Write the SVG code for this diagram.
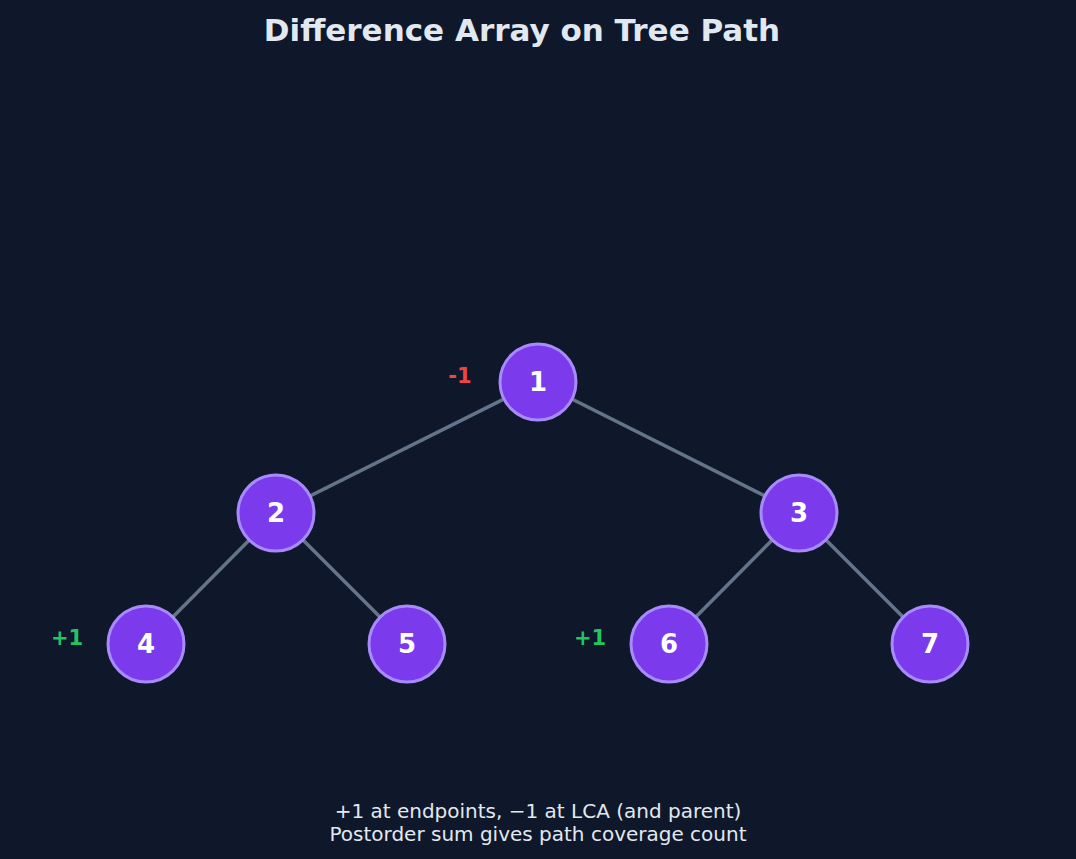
<svg xmlns="http://www.w3.org/2000/svg" width="1076" height="859" viewBox="0 0 1076 859">
<style>
.n{fill:#7c3aed;stroke:#a78bfa;stroke-width:3}
.t{font-family:"DejaVu Sans",sans-serif;font-weight:bold;font-size:26px;fill:#fff;text-anchor:middle;dominant-baseline:central}
.e{stroke:#64748b;stroke-width:3.5}
.l{font-family:"DejaVu Sans",sans-serif;font-weight:bold;font-size:21px;text-anchor:middle;dominant-baseline:central}
.c{font-family:"DejaVu Sans",sans-serif;font-size:20px;fill:#e2e8f0;text-anchor:middle}
</style>
<rect width="1076" height="859" fill="#0f172a"/>
<text x="522" y="41" font-family="DejaVu Sans,sans-serif" font-weight="bold" font-size="31" fill="#e2e8f0" text-anchor="middle">Difference Array on Tree Path</text>
<g id="edges">
<line class="e" x1="538" y1="382" x2="276" y2="513"/>
<line class="e" x1="538" y1="382" x2="799" y2="513"/>
<line class="e" x1="276" y1="513" x2="146" y2="644"/>
<line class="e" x1="276" y1="513" x2="407" y2="644"/>
<line class="e" x1="799" y1="513" x2="669" y2="644"/>
<line class="e" x1="799" y1="513" x2="930" y2="644"/>
</g>
<g id="n1"><circle class="n" cx="538" cy="382" r="38"/><text class="t" x="538" y="382">1</text></g>
<g id="n2"><circle class="n" cx="276" cy="513" r="38"/><text class="t" x="276" y="513">2</text></g>
<g id="n3"><circle class="n" cx="799" cy="513" r="38"/><text class="t" x="799" y="513">3</text></g>
<g id="n4"><circle class="n" cx="146" cy="644" r="38"/><text class="t" x="146" y="644">4</text></g>
<g id="n5"><circle class="n" cx="407" cy="644" r="38"/><text class="t" x="407" y="644">5</text></g>
<g id="n6"><circle class="n" cx="669" cy="644" r="38"/><text class="t" x="669" y="644">6</text></g>
<g id="n7"><circle class="n" cx="930" cy="644" r="38"/><text class="t" x="930" y="644">7</text></g>
<text class="l" x="460" y="376" fill="#ef4444">-1</text>
<text class="l" x="67" y="638" fill="#22c55e">+1</text>
<text class="l" x="590" y="638" fill="#22c55e">+1</text>
<text class="c" x="538" y="818">+1 at endpoints, −1 at LCA (and parent)</text>
<text class="c" x="538" y="841">Postorder sum gives path coverage count</text>
</svg>
